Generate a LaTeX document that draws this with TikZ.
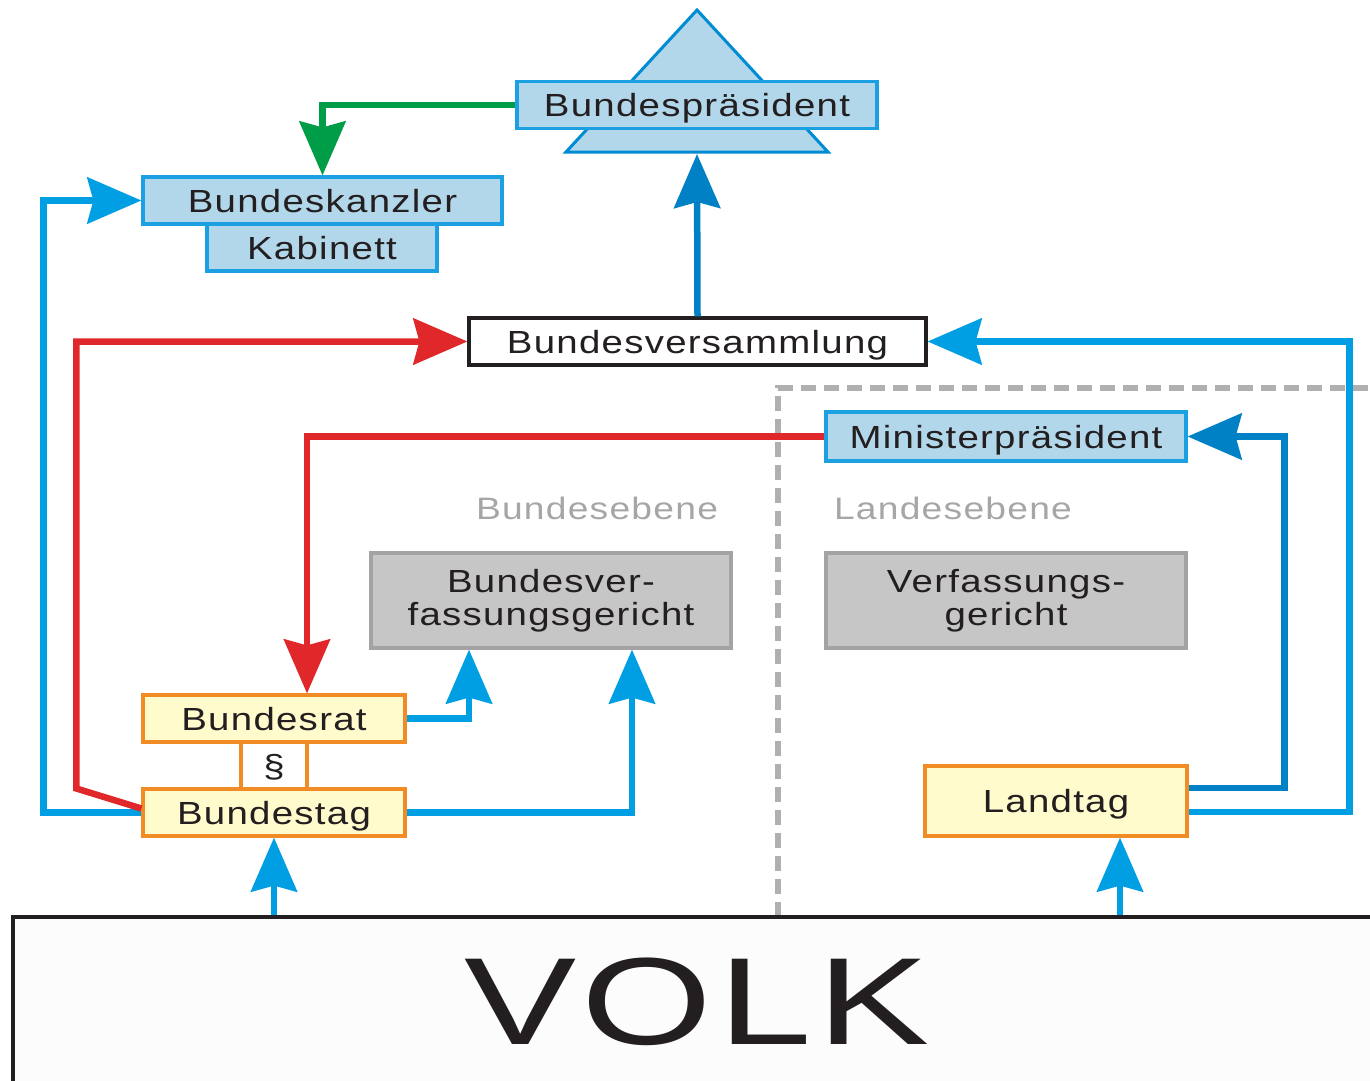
\documentclass[tikz,border=0pt]{standalone}
\usepackage{fontspec}
\setmainfont{Liberation Sans}[FakeStretch=1.2,LetterSpace=4]
\usetikzlibrary{arrows.meta}

\definecolor{textdark}{RGB}{35,31,32}
\definecolor{lightblue}{RGB}{178,215,235}
\definecolor{boxblue}{RGB}{27,161,226}
\definecolor{triblue}{RGB}{0,140,210}
\definecolor{linkblue}{RGB}{0,159,227}
\definecolor{deepblue}{RGB}{0,129,198}
\definecolor{linkred}{RGB}{224,40,42}
\definecolor{linkgreen}{RGB}{0,157,72}
\definecolor{paleyellow}{RGB}{255,251,204}
\definecolor{boxorange}{RGB}{240,140,35}
\definecolor{midgray}{RGB}{198,198,198}
\definecolor{boxgray}{RGB}{163,163,163}
\definecolor{labelgray}{RGB}{166,166,166}
\definecolor{dashgray}{RGB}{176,176,176}

\tikzset{
  base/.style={draw, line width=3.2, inner sep=0, font=\fontsize{32}{33}\selectfont, text=textdark},
  box/.style={base, minimum height=47, text height=23, text depth=0},
  bluebox/.style={box, draw=boxblue, fill=lightblue},
  yellowbox/.style={box, draw=boxorange, fill=paleyellow},
  graybox/.style={base, draw=boxgray, fill=midgray, align=center, minimum width=360, minimum height=95},
  levellabel/.style={inner sep=0, font=\fontsize{31}{33}\selectfont, text=labelgray, text height=23, text depth=0},
  link/.style={line width=6.5, -{Stealth[length=54,width=46,inset=6]}},
  levelline/.style={draw=dashgray, line width=5.5, dash pattern=on 15 off 8},
}

\begin{document}
\begin{tikzpicture}[x=1pt,y=1pt,yscale=-1,xscale=1]
\clip (0,0) rectangle (1370,1081);

%Dashed Lines: Bundesebene / Landesebene
\draw[levelline] (778,917) -- (778,388) -- (1372,388);

%Shape: Triangle
\draw[fill=lightblue, draw=triblue, line width=3] (697,10) -- (828,152) -- (566,152) -- cycle;
\coordinate (presbase) at (697,154);

% Boxes
\node[bluebox, minimum width=360] (pres) at (697,105) {Bundespräsident};
\node[bluebox, minimum width=359] (kanzler) at (322.5,200.5) {Bundeskanzler};
\node[bluebox, minimum width=230] (kabinett) at (322,247.5) {Kabinett};
\node[box, fill=white, draw=textdark, minimum width=457] (versamml) at (697.5,341.5) {Bundesversammlung};
\node[bluebox, minimum width=360, minimum height=49] (minister) at (1006,436.5) {Ministerpräsident};
\node[graybox] (bverfg) at (551,600.5) {Bundesver-\\fassungsgericht};
\node[graybox] (lverfg) at (1006,600.5) {Verfassungs-\\gericht};
\node[yellowbox, minimum width=262] (brat) at (274,718.5) {Bundesrat};
\node[yellowbox, fill=white, minimum width=66] (para) at (274,765.5) {\S};
\node[yellowbox, minimum width=262] (btag) at (274,812.5) {Bundestag};
\node[yellowbox, minimum width=262, minimum height=70] (landtag) at (1056,801) {Landtag};
\node[base, draw=textdark, fill=white!99!black, minimum width=1368, minimum height=166, font=\fontsize{124}{124}\selectfont, text height=89, text depth=0] (volk) at (697,1000) {\scalebox{1.13}[1]{VOLK}};

% Text Node
\node[levellabel] (bundlabel) at (597,508) {Bundesebene};
% Text Node
\node[levellabel] (landlabel) at (953,508) {Landesebene};

\coordinate (landfoot) at ([xshift=64]landtag.south);
\coordinate (redknee) at ([xshift=-65,yshift=-24]btag.west);

% Connectors
\draw[link, draw=linkgreen] (pres.west) -| (kanzler.north);
\draw[link, draw=deepblue] (versamml.north) -- (presbase);
\draw[link, draw=linkblue] (btag.west) -| ([xshift=-98]kanzler.west) -- (kanzler.west);
\draw[link, draw=linkred] ([yshift=-4]btag.west) -- (redknee) |- (versamml.west);
\draw[link, draw=linkred] (minister.west) -| ([xshift=33]brat.north);
\draw[link, draw=linkblue] (brat.east) -| ([xshift=-82]bverfg.south);
\draw[link, draw=linkblue] (btag.east) -| ([xshift=81]bverfg.south);
\draw[link, draw=linkblue] (btag.south |- volk.north) -- (btag.south);
\draw[link, draw=linkblue] (landfoot |- volk.north) -- (landfoot);
\draw[link, draw=deepblue] ([yshift=-13]landtag.east) -| ([xshift=97]minister.east) -- (minister.east);
\draw[link, draw=linkblue] ([yshift=11]landtag.east) -| ([xshift=422]versamml.east) -- (versamml.east);

\end{tikzpicture}
\end{document}
